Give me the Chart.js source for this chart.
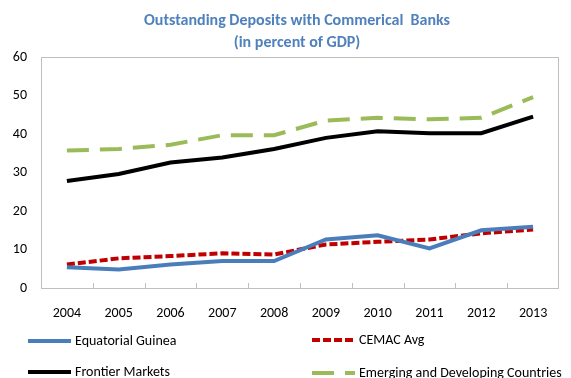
<!DOCTYPE html>
<html>
<head>
<meta charset="utf-8">
<script src="https://cdn.jsdelivr.net/npm/chart.js@4.4.1/dist/chart.umd.min.js"></script>
<style>
  html, body { margin: 0; padding: 0; background: #fff; }
  #wrap { position: relative; width: 571px; height: 378px; overflow: hidden; }
  #overlay { position: absolute; left: 0; top: 0; width: 571px; height: 378px; pointer-events: none;
             font-family: Carlito, Calibri, Lato, sans-serif; color: #000; }
  #title { position: absolute; left: 97px; width: 400px; top: 9px; text-align: center;
           font-size: 16px; font-weight: bold; color: #4f81bd; line-height: 22px; }
  .item { position: absolute; display: flex; align-items: center; white-space: nowrap;
          font-size: 14px; line-height: 18px; height: 18px; }
</style>
</head>
<body>
<div id="wrap">
  <canvas id="chart" width="571" height="378"></canvas>
  <div id="overlay">
    <div id="title">Outstanding Deposits with Commerical&nbsp; Banks<br>(in percent of GDP)</div>
  </div>
</div>
<script>
'use strict';

const years = ['2004','2005','2006','2007','2008','2009','2010','2011','2012','2013'];
const equatorialGuinea = [5.4, 4.8, 6.1, 7.0, 7.0, 12.6, 13.7, 10.3, 15.0, 15.9];
const cemacAvg = [6.1, 7.7, 8.3, 9.0, 8.7, 11.3, 12.0, 12.6, 14.2, 15.2];
const frontierMarkets = [27.8, 29.6, 32.6, 33.9, 36.1, 39.0, 40.7, 40.2, 40.2, 44.5];
const emergingDeveloping = [35.7, 36.1, 37.2, 39.7, 39.7, 43.5, 44.2, 43.8, 44.2, 49.6];
const yTicks = [0, 10, 20, 30, 40, 50, 60];

const FONT = 'Carlito, Calibri, Lato, sans-serif';

const series = [
  { label: 'Equatorial Guinea', data: equatorialGuinea, color: '#4a7ebb', dash: [], legend: [28, 341] },
  { label: 'CEMAC Avg', data: cemacAvg, color: '#c00000', dash: [8, 3], legend: [312, 340] },
  { label: 'Frontier Markets', data: frontierMarkets, color: '#000000', dash: [], legend: [28, 372] },
  { label: 'Emerging and Developing  Countries', data: emergingDeveloping, color: '#9bbb59', dash: [22, 11], legend: [312, 373] },
];

// plot frame plus small inward tick marks between the years
const framePlugin = {
  id: 'frame',
  afterDraw(chart) {
    const { ctx, chartArea: a, scales: { x } } = chart;
    ctx.save();
    ctx.strokeStyle = '#bfbfbf';
    ctx.lineWidth = 1;
    ctx.strokeRect(Math.round(a.left) + 0.5, Math.round(a.top) + 0.5,
                   Math.round(a.right - a.left) - 1, Math.round(a.bottom - a.top));
    ctx.beginPath();
    for (let i = 1; i < years.length; i++) {
      const px = Math.round((x.getPixelForValue(i - 1) + x.getPixelForValue(i)) / 2) + 0.5;
      ctx.moveTo(px, a.bottom);
      ctx.lineTo(px, a.bottom - 5);
    }
    ctx.stroke();
    ctx.restore();
  },
};

new Chart(document.getElementById('chart'), {
  type: 'line',
  data: {
    labels: years,
    datasets: series.map(s => ({
      label: s.label,
      data: s.data,
      borderColor: s.color,
      backgroundColor: s.color,
      borderDash: s.dash,
      borderWidth: 4,
      pointRadius: 0,
      tension: 0,
      fill: false,
    })),
  },
  options: {
    responsive: false,
    animation: false,
    layout: { padding: { left: 0, right: 12, top: 57, bottom: 0 } },
    plugins: {
      legend: { display: false },
      tooltip: { enabled: false },
    },
    scales: {
      x: {
        offset: true,
        afterFit: scale => { scale.height = 90; },
        grid: { display: false, drawTicks: false },
        border: { display: false },
        ticks: { color: '#000', font: { family: FONT, size: 14 }, padding: 17, maxRotation: 0 },
      },
      y: {
        min: 0,
        max: 60,
        afterFit: scale => { scale.width = 41; },
        afterBuildTicks: scale => { scale.ticks = yTicks.map(v => ({ value: v })); },
        grid: { display: false, drawTicks: false },
        border: { display: false },
        ticks: { color: '#000', font: { family: FONT, size: 14 }, padding: 14 },
      },
    },
  },
  plugins: [framePlugin],
});

// legend laid out in two columns under the axis
const overlay = document.getElementById('overlay');
series.forEach(s => {
  const item = document.createElement('div');
  item.className = 'item';
  item.style.left = s.legend[0] + 'px';
  item.style.top = (s.legend[1] - 9) + 'px';
  const sw = document.createElement('canvas');
  sw.width = 43; sw.height = 6;
  sw.style.marginRight = '4px';
  const c = sw.getContext('2d');
  c.strokeStyle = s.color;
  c.lineWidth = 4;
  c.setLineDash(s.dash);
  c.beginPath(); c.moveTo(0, 3); c.lineTo(43, 3); c.stroke();
  const txt = document.createElement('span');
  txt.textContent = s.label;
  item.appendChild(sw);
  item.appendChild(txt);
  overlay.appendChild(item);
});
</script>
</body>
</html>
